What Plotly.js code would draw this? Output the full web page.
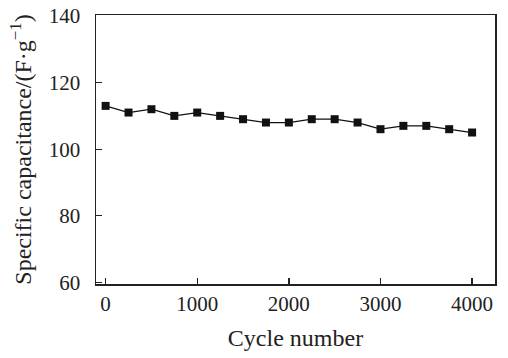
<!DOCTYPE html>
<html>
<head>
<meta charset="utf-8">
<script src="https://cdn.plot.ly/plotly-3.0.1.min.js"></script>
<style>html,body{margin:0;padding:0;background:#fff;}#chart{width:508px;height:358px;}</style>
</head>
<body>
<div id="chart"></div>
<script>
const cycles = [0, 250, 500, 750, 1000, 1250, 1500, 1750, 2000, 2250, 2500, 2750, 3000, 3250, 3500, 3750, 4000];
const capacitance = [113, 111, 112, 110, 111, 110, 109, 108, 108, 109, 109, 108, 106, 107, 107, 106, 105];
const xTicks = [0, 1000, 2000, 3000, 4000];
const yTicks = [60, 80, 100, 120, 140];

const fontFam = '"Liberation Serif", "Times New Roman", serif';

const trace = {
  x: cycles,
  y: capacitance,
  type: 'scatter',
  mode: 'lines+markers',
  line: {color: '#111', width: 1.3},
  marker: {symbol: 'square', size: 8, color: '#111'},
  showlegend: false,
  cliponaxis: false
};

const layout = {
  width: 508,
  height: 358,
  margin: {l: 96, r: 13, t: 15, b: 74},
  paper_bgcolor: '#fff',
  plot_bgcolor: '#fff',
  font: {family: fontFam, color: '#222', size: 20},
  xaxis: {
    range: [-105, 4250],
    tickvals: xTicks,
    ticktext: xTicks.map(String),
    ticks: 'inside',
    ticklen: 6,
    tickwidth: 1.3,
    tickcolor: '#222',
    showline: true,
    linecolor: '#222',
    linewidth: 1.5,
    mirror: true,
    showgrid: false,
    zeroline: false,
    ticklabelstandoff: 0,
    tickfont: {family: fontFam, size: 21, color: '#222'},
    title: {text: 'Cycle number', font: {family: fontFam, size: 24, color: '#222'}, standoff: 14}
  },
  yaxis: {
    range: [59.5, 140.3],
    tickvals: yTicks,
    ticktext: yTicks.map(String),
    ticks: 'inside',
    ticklen: 6,
    tickwidth: 1.3,
    tickcolor: '#222',
    showline: true,
    linecolor: '#222',
    linewidth: 1.5,
    mirror: true,
    showgrid: false,
    zeroline: false,
    ticklabelstandoff: 10,
    tickfont: {family: fontFam, size: 21, color: '#222'},
    title: {text: 'Specific capacitance/(F·g<sup>−1</sup>)', font: {family: fontFam, size: 24, color: '#222'}, standoff: 10}
  }
};

Plotly.newPlot('chart', [trace], layout, {staticPlot: true, displayModeBar: false});
</script>
</body>
</html>
